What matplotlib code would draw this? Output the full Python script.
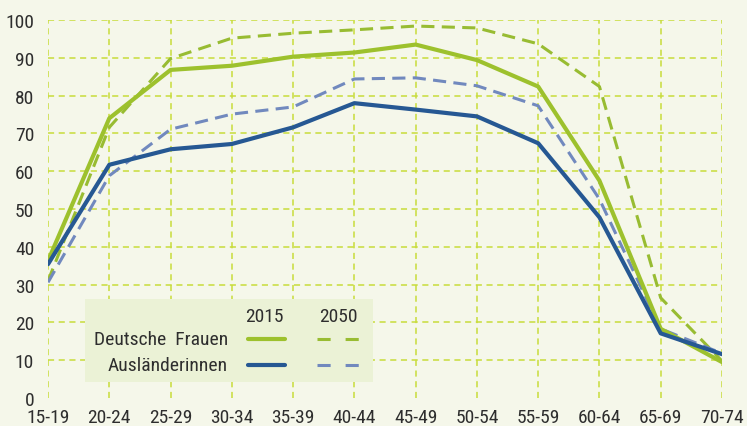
import matplotlib
matplotlib.use('Agg')
import matplotlib.pyplot as plt
from matplotlib.patches import Rectangle
from matplotlib.lines import Line2D

plt.rcParams['font.family'] = ['Roboto Condensed', 'DejaVu Sans']

age_groups = ['15-19', '20-24', '25-29', '30-34', '35-39', '40-44',
              '45-49', '50-54', '55-59', '60-64', '65-69', '70-74']
deutsche_2015 = [36.3, 74.0, 86.8, 87.9, 90.3, 91.4, 93.5, 89.4, 82.4, 57.5, 18.3, 9.5]
deutsche_2050 = [31.0, 71.6, 89.8, 95.2, 96.5, 97.4, 98.4, 97.9, 93.7, 82.4, 26.5, 9.8]
auslaender_2015 = [35.4, 61.7, 65.8, 67.2, 71.6, 78.0, 76.3, 74.5, 67.4, 47.8, 17.1, 11.6]
auslaender_2050 = [30.6, 58.8, 71.1, 75.1, 77.0, 84.4, 84.7, 82.6, 77.3, 52.6, 18.3, 11.8]
y_ticks = [0, 10, 20, 30, 40, 50, 60, 70, 80, 90, 100]

bg = '#F5F7EA'
grid_col = '#C8DC3A'
green = '#9DC12D'
green_dash = '#98BC32'
blue = '#265893'
blue_dash = '#7189BE'
text_col = '#2E2E2E'
fs = 14

fig = plt.figure(figsize=(7.47, 4.27), dpi=100, facecolor=bg)
ax = fig.add_axes([0.0643, 0.0656, 0.9022, 0.8852])
ax.set_facecolor(bg)

x = list(range(len(age_groups)))

# grid as dashed lines, including the borders
for xi in x:
    ax.axvline(xi, color=grid_col, lw=1.1, ls=(0, (4, 3)), zorder=1)
for yt in y_ticks[1:]:
    ax.axhline(yt, color=grid_col, lw=1.1, ls=(0, (4, 3)), zorder=1)

ax.plot(x, deutsche_2050, color=green_dash, lw=2.2, ls=(0, (4.3, 2.4)), zorder=3)
ax.plot(x, auslaender_2050, color=blue_dash, lw=2.2, ls=(0, (4.3, 2.4)), zorder=3)
ax.plot(x, deutsche_2015, color=green, lw=3.0, zorder=4, solid_capstyle='round')
ax.plot(x, auslaender_2015, color=blue, lw=3.0, zorder=4, solid_capstyle='round')

ax.set_xlim(0, len(age_groups) - 1)
ax.set_ylim(0, 100)
ax.set_xticks(x)
ax.set_xticklabels(age_groups)
ax.set_yticks(y_ticks)
ax.tick_params(length=0, labelsize=fs, colors=text_col)
ax.tick_params(axis='y', pad=10)
ax.tick_params(axis='x', pad=7)
for s in ax.spines.values():
    s.set_visible(False)

# legend box
tr = ax.transAxes
ax.add_patch(Rectangle((0.0549, 0.0423), 0.4273, 0.2197, transform=tr,
                       facecolor='#EBF2D6', edgecolor='none', zorder=5))
ax.text(0.321, 0.218, '2015', transform=tr, ha='center', va='center',
        fontsize=fs, color=text_col, zorder=6)
ax.text(0.431, 0.218, '2050', transform=tr, ha='center', va='center',
        fontsize=fs, color=text_col, zorder=6)
ax.text(0.267, 0.155, 'Deutsche  Frauen', transform=tr, ha='right', va='center',
        fontsize=fs, color=text_col, zorder=6)
ax.text(0.267, 0.086, 'Ausländerinnen', transform=tr, ha='right', va='center',
        fontsize=fs, color=text_col, zorder=6)
for yy, c_solid, c_dash in [(0.155, green, green_dash), (0.088, blue, blue_dash)]:
    ax.add_line(Line2D([0.296, 0.352], [yy, yy], transform=tr, color=c_solid,
                       lw=3.0, solid_capstyle='round', zorder=6))
    ax.add_line(Line2D([0.399, 0.461], [yy, yy], transform=tr, color=c_dash,
                       lw=2.2, ls=(0, (4.3, 4.9)), zorder=6))

fig.savefig('out.png', dpi=100, facecolor=bg)
